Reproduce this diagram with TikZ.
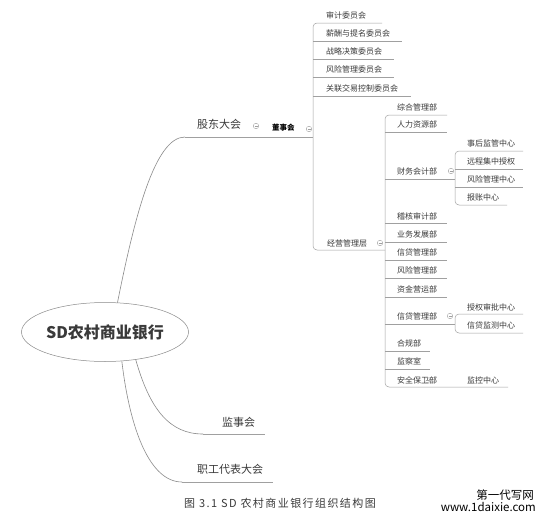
\documentclass[tikz,border=0pt]{standalone}
\usepackage{fontspec}
\setmainfont{Noto Sans CJK SC}
\newfontfamily\capfont[LetterSpace=13]{Noto Sans CJK SC}
\usetikzlibrary{shapes.geometric}
\definecolor{lg}{HTML}{A0A0A0}
\definecolor{cg}{HTML}{8A8A8A}
\definecolor{tx}{HTML}{3A3A3A}
\begin{document}
\begin{tikzpicture}[x=1pt,y=-1pt,
  lbl/.style={anchor=west,inner sep=0pt,text=tx,font=\fontsize{8}{9}\selectfont},
  big/.style={anchor=west,inner sep=0pt,text=tx,font=\fontsize{11}{12}\selectfont},
  ul/.style={draw=lg,line width=0.5pt},
  br/.style={draw=cg,line width=0.6pt},
  tog/.style={circle,draw=lg,line width=0.4pt,minimum size=5.5pt,inner sep=0pt,
    path picture={\draw[lg,line width=0.4pt] ([xshift=-1.5pt]path picture bounding box.center) -- ([xshift=1.5pt]path picture bounding box.center);}},
]
\useasboundingbox[fill=white] (0,0) rectangle (548,522);

% root
\node (root) [draw=cg,line width=0.5pt,ellipse,minimum width=167pt,minimum height=59pt,inner sep=0pt,text=tx]
  at (105,332) {\fontsize{16}{18}\selectfont\bfseries SD农村商业银行};

% first level
\coordinate (gdS) at (185,137);
\coordinate (dsJ) at (313,137);
\node (gd) [big] at (197,124) {股东大会};
\node (gdT) [tog] at (256,126) {};
\node (ds) [lbl,font=\fontsize{7.5}{9}\selectfont\bfseries,text=black] at (272,128) {董事会};
\node (dsT) [tog] at (309,129) {};
\draw[br] (root.67) .. controls (135,215) and (155,137) .. (gdS);
\draw[ul] (gdS) -- (dsJ);

\coordinate (jsS) at (203,434);
\coordinate (jsE) at (265,434);
\node (js) [big] at (222,422) {监事会};
\draw[br] (root.-42) .. controls (150,410) and (170,434) .. (jsS);
\draw[ul] (jsS) -- (jsE);

\coordinate (zgS) at (182,482);
\coordinate (zgE) at (273,482);
\node (zg) [big] at (197,469) {职工代表大会};
\draw[br] (root.-60) .. controls (130,430) and (150,482) .. (zgS);
\draw[ul] (zgS) -- (zgE);

% board committees
\node (c1) [lbl] at (326,15) {审计委员会};
\node (c2) [lbl] at (326,33) {薪酬与提名委员会};
\node (c3) [lbl] at (326,51) {战略决策委员会};
\node (c4) [lbl] at (326,69) {风险管理委员会};
\node (c5) [lbl] at (326,88) {关联交易控制委员会};
\node (jy) [lbl] at (327,243) {经营管理层};
\node (jyT) [tog] at (380,243) {};
\coordinate (c1E) at (382,23);
\coordinate (jyJ) at (385,250);
\draw[ul,rounded corners=4pt] (c1E) -- (313,23) -- (313,250) -- (jyJ);
\draw[ul] (313,41) -- (402,41);
\draw[ul] (313,59) -- (394,59);
\draw[ul] (313,77) -- (394,77);
\draw[ul] (313,96) -- (411,96);

% management departments
\node (d1) [lbl] at (397,107) {综合管理部};
\node (d2) [lbl] at (397,124) {人力资源部};
\node (d3) [lbl] at (397,171) {财务会计部};
\node (d3T) [tog] at (451,171) {};
\node (d4) [lbl] at (397,216) {稽核审计部};
\node (d5) [lbl] at (397,234) {业务发展部};
\node (d6) [lbl] at (397,252) {信贷管理部};
\node (d7) [lbl] at (397,270) {风险管理部};
\node (d8) [lbl] at (397,289) {资金营运部};
\node (d9) [lbl] at (397,316) {信贷管理部};
\node (d9T) [tog] at (450,316) {};
\node (d10) [lbl] at (397,343) {合规部};
\node (d11) [lbl] at (397,361) {监察室};
\node (d12) [lbl] at (397,380) {安全保卫部};
\node (d12T) [tog] at (427,380) {};
\coordinate (d1E) at (447,115);
\coordinate (d12E) at (508,387);
\draw[ul,rounded corners=4pt] (d1E) -- (385,115) -- (385,387) -- (d12E);
\draw[ul] (385,132) -- (447,132);
\draw[ul] (385,179) -- (455,179);
\draw[ul] (385,223) -- (447,223);
\draw[ul] (385,242) -- (447,242);
\draw[ul] (385,260) -- (447,260);
\draw[ul] (385,278) -- (447,278);
\draw[ul] (385,297) -- (447,297);
\draw[ul] (385,324) -- (455,324);
\draw[ul] (385,351) -- (430,351);
\draw[ul] (385,369) -- (430,369);

% finance centres
\node (f1) [lbl] at (467,143) {事后监管中心};
\node (f2) [lbl] at (467,161) {远程集中授权};
\node (f3) [lbl] at (467,179) {风险管理中心};
\node (f4) [lbl] at (467,197) {报账中心};
\coordinate (f1E) at (523,151);
\coordinate (f4E) at (507,205);
\draw[ul,rounded corners=4pt] (f1E) -- (455,151) -- (455,205) -- (f4E);
\draw[ul] (455,169) -- (523,169);
\draw[ul] (455,187) -- (523,187);

% credit centres
\node (x1) [lbl] at (467,307) {授权审批中心};
\node (x2) [lbl] at (467,325) {信贷监测中心};
\coordinate (x1E) at (523,314);
\coordinate (x2E) at (523,333);
\draw[ul,rounded corners=4pt] (x1E) -- (455,314) -- (455,333) -- (x2E);

% security centre
\node (s1) [lbl] at (467,380) {监控中心};

% caption and mark
\node (cap) [inner sep=0pt,text=tx,font=\fontsize{11}{12}\capfont] at (280,503) {图 3.1 SD 农村商业银行组织结构图};
\node (wm1) [inner sep=0pt,anchor=east,font=\fontsize{11.5}{12}\selectfont] at (534,495) {第一代写网};
\node (wm2) [inner sep=0pt,anchor=east,font=\fontsize{11.5}{12}\selectfont] at (536,507) {www.1daixie.com};
\end{tikzpicture}
\end{document}
